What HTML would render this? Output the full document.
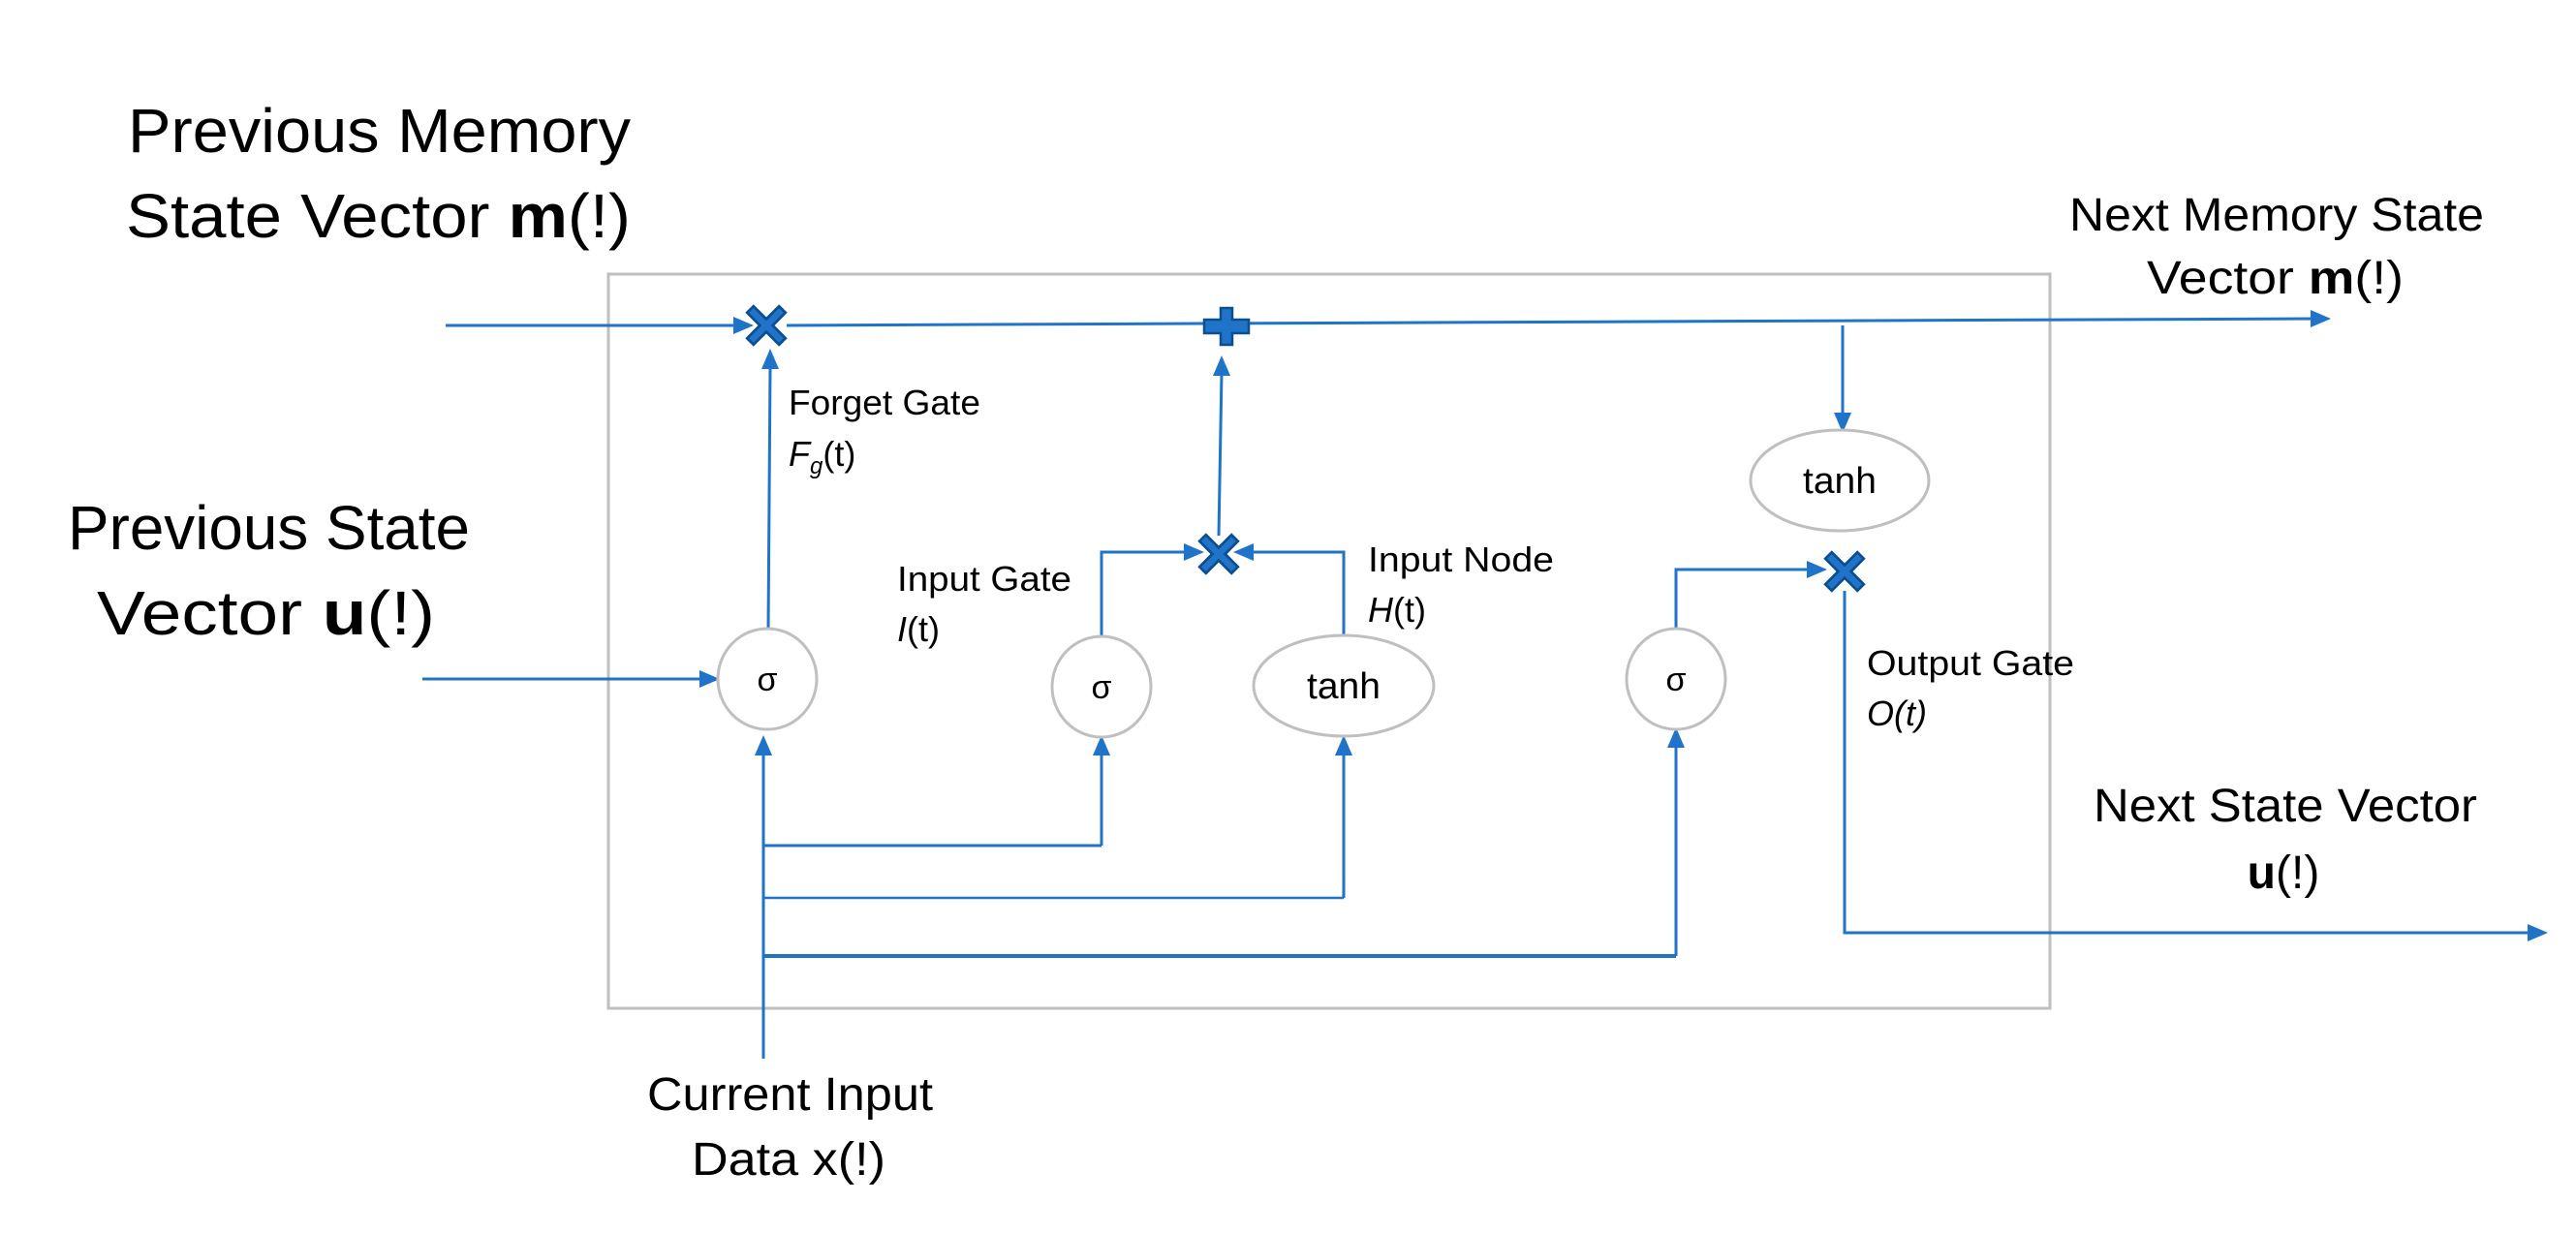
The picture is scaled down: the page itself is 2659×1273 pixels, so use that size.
<!DOCTYPE html>
<html><head><meta charset="utf-8"><style>
html,body{margin:0;padding:0;background:#fff;}
svg{display:block;}
text{font-family:"Liberation Sans",sans-serif;fill:#000;}
</style></head><body>
<svg width="2659" height="1273" viewBox="0 0 2659 1273" xmlns="http://www.w3.org/2000/svg">
<!-- box -->
<rect x="628" y="283" width="1488" height="758" fill="none" stroke="#bfbfbf" stroke-width="3"/>

<g stroke="#1f73c8" stroke-width="3" fill="none">
<line x1="460" y1="336" x2="764" y2="336"/>
<polyline points="812,336 1240,334 1930,331 2390,329"/>
<line x1="793" y1="650" x2="795" y2="378"/>
<line x1="436" y1="701" x2="726" y2="701"/>
<line x1="788" y1="1093" x2="788" y2="775"/>
<line x1="788" y1="873" x2="1137" y2="873"/>
<polyline points="1137,873 1137,775"/>
<line x1="788" y1="927" x2="1387" y2="927" stroke-width="2.5"/>
<polyline points="1387,927 1387,775"/>
<line x1="788" y1="987" x2="1730" y2="987" stroke-width="4"/>
<polyline points="1730,987 1730,768"/>
<polyline points="1137,657 1137,570 1225,570"/>
<polyline points="1387,656 1387,570 1292,570"/>
<line x1="1258" y1="553" x2="1261" y2="385"/>
<line x1="1902" y1="336" x2="1902" y2="432"/>
<polyline points="1730,649 1730,588 1870,588"/>
<polyline points="1904,610 1904,963 2610,963"/>
</g>
<g fill="#1f73c8">
<polygon points="778,336 757,327 757,345"/>
<polygon points="795,360 786,381 804,381"/>
<polygon points="743,701 722,692 722,710"/>
<polygon points="788,759 779,780 797,780"/>
<polygon points="1137,759 1128,780 1146,780"/>
<polygon points="1387,759 1378,780 1396,780"/>
<polygon points="1730,751 1721,772 1739,772"/>
<polygon points="1243,570 1222,561 1222,579"/>
<polygon points="1273,570 1294,561 1294,579"/>
<polygon points="1261,367 1252,388 1270,388"/>
<polygon points="1902,447 1893,426 1911,426"/>
<polygon points="1886,588 1865,579 1865,597"/>
<polygon points="2406,329 2385,320 2385,338"/>
<polygon points="2630,963 2609,954 2609,972"/>
</g>
<g fill="#1f73c8" stroke="#0d4f8e" stroke-width="2.5">
<path transform="translate(791,336) scale(1.1)" d="M-12,-18 L0,-6 L12,-18 L18,-12 L6,0 L18,12 L12,18 L0,6 L-12,18 L-18,12 L-6,0 L-18,-12 Z"/>
<path transform="translate(1258,572) scale(1.1)" d="M-12,-18 L0,-6 L12,-18 L18,-12 L6,0 L18,12 L12,18 L0,6 L-12,18 L-18,12 L-6,0 L-18,-12 Z"/>
<path transform="translate(1904,590) scale(1.1)" d="M-12,-18 L0,-6 L12,-18 L18,-12 L6,0 L18,12 L12,18 L0,6 L-12,18 L-18,12 L-6,0 L-18,-12 Z"/>
<path transform="translate(1266,337)" d="M-6,-19 L6,-19 L6,-7 L23,-7 L23,7 L6,7 L6,19 L-6,19 L-6,7 L-23,7 L-23,-7 L-6,-7 Z"/>
</g>
<g fill="#fff" stroke="#bfbfbf" stroke-width="3">
<ellipse cx="792" cy="701" rx="51" ry="52"/>
<ellipse cx="1137" cy="709" rx="51" ry="52"/>
<ellipse cx="1387" cy="708" rx="93" ry="52"/>
<ellipse cx="1730" cy="701" rx="51" ry="52"/>
<ellipse cx="1899" cy="496" rx="92" ry="52"/>
</g>
<g font-size="34" text-anchor="middle">
<text x="792" y="713">σ</text>
<text x="1137" y="721">σ</text>
<text x="1730" y="713">σ</text>
</g>
<g font-size="38" text-anchor="middle">
<text x="1387" y="721" textLength="76" lengthAdjust="spacingAndGlyphs">tanh</text>
<text x="1899" y="509" textLength="76" lengthAdjust="spacingAndGlyphs">tanh</text>
</g>
<g font-size="36">
<text x="814" y="428" textLength="198" lengthAdjust="spacingAndGlyphs">Forget Gate</text>
<text x="814" y="481"><tspan font-style="italic">F</tspan><tspan font-style="italic" font-size="24" dy="8">g</tspan><tspan dy="-8">(t)</tspan></text>
<text x="926" y="610" textLength="180" lengthAdjust="spacingAndGlyphs">Input Gate</text>
<text x="926" y="662"><tspan font-style="italic">I</tspan>(t)</text>
<text x="1412" y="590" textLength="192" lengthAdjust="spacingAndGlyphs">Input Node</text>
<text x="1412" y="642"><tspan font-style="italic">H</tspan>(t)</text>
<text x="1927" y="697" textLength="214" lengthAdjust="spacingAndGlyphs">Output Gate</text>
<text x="1927" y="749" font-style="italic">O(t)</text>
</g>
<g font-size="64">
<text x="132" y="157" textLength="519" lengthAdjust="spacingAndGlyphs">Previous Memory</text>
<text x="130" y="245" textLength="521" lengthAdjust="spacingAndGlyphs">State Vector <tspan font-weight="bold">m</tspan>(!)</text>
<text x="70" y="567" textLength="415" lengthAdjust="spacingAndGlyphs">Previous State</text>
<text x="100" y="655" textLength="349" lengthAdjust="spacingAndGlyphs">Vector  <tspan font-weight="bold">u</tspan>(!)</text>
</g>
<g font-size="48">
<text x="2136" y="238" textLength="428" lengthAdjust="spacingAndGlyphs">Next Memory State</text>
<text x="2216" y="303" textLength="265" lengthAdjust="spacingAndGlyphs">Vector <tspan font-weight="bold">m</tspan>(!)</text>
<text x="2161" y="848" textLength="396" lengthAdjust="spacingAndGlyphs">Next State  Vector</text>
<text x="2357" y="917" text-anchor="middle"><tspan font-weight="bold">u</tspan>(!)</text>
<text x="668" y="1146" textLength="295" lengthAdjust="spacingAndGlyphs">Current Input</text>
<text x="714" y="1213" textLength="200" lengthAdjust="spacingAndGlyphs">Data x(!)</text>
</g>
</svg>
</body></html>
